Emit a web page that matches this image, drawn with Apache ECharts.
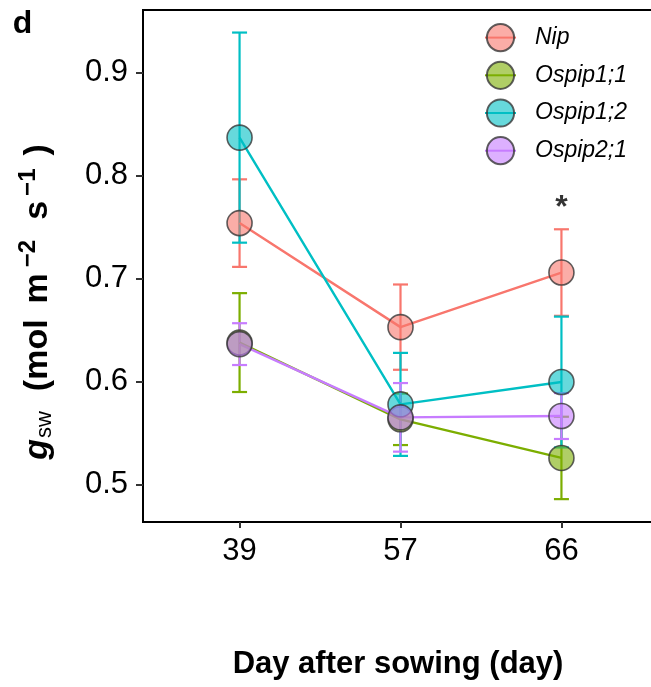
<!DOCTYPE html>
<html><head><meta charset="utf-8">
<script src="https://cdn.jsdelivr.net/npm/echarts@6/dist/echarts.min.js"></script>
<style>html,body{margin:0;padding:0;background:#fff}#c{width:651px;height:687px}</style>
</head><body><div id="c"></div>
<script>
// ---- data ----
const categories = ['39', '57', '66'];
const seriesNames = ['Nip', 'Ospip1;1', 'Ospip1;2', 'Ospip2;1'];
const meanNip   = [0.754, 0.653, 0.706];
const errNip    = [0.0425, 0.0414, 0.042];
const meanPip11 = [0.638, 0.5635, 0.526];
const errPip11  = [0.048, 0.025, 0.040];
const meanPip12 = [0.837, 0.578, 0.5997];
const errPip12  = [0.102, 0.050, 0.0635];
const meanPip21 = [0.6365, 0.5654, 0.5667];
const errPip21  = [0.0203, 0.0333, 0.0223];
const yTicks = [0.5, 0.6, 0.7, 0.8, 0.9];
const signifSeries = 'Nip';
const signifCategory = '66';
const signifLabel = '*';

const means = [meanNip, meanPip11, meanPip12, meanPip21];
const errs = [errNip, errPip11, errPip12, errPip21];
const colors = ['#F8766D', '#7CAE00', '#00BFC4', '#C77CFF'];
const fills = ['rgba(248,118,109,0.6)', 'rgba(124,174,0,0.6)', 'rgba(0,191,196,0.6)', 'rgba(199,124,255,0.6)'];
const FONT = '"Liberation Sans", Arial, Helvetica, sans-serif';

const chart = echarts.init(document.getElementById('c'), null, {renderer: 'canvas'});
const series = [];
const xIdx = categories.map((c, i) => i + 1);

seriesNames.forEach((name, s) => {
  series.push({
    type: 'custom',
    name: name + '_err',
    z: 2,
    silent: true,
    data: xIdx.map((x, i) => [x, means[s][i] - errs[s][i], means[s][i] + errs[s][i]]),
    renderItem: function (params, api) {
      const x = api.value(0);
      const lo = api.coord([x, api.value(1)]);
      const hi = api.coord([x, api.value(2)]);
      const hw = 7.5;
      const st = {stroke: colors[s], lineWidth: 2.2, fill: null};
      return {
        type: 'group',
        children: [
          {type: 'line', shape: {x1: lo[0], y1: lo[1], x2: hi[0], y2: hi[1]}, style: st},
          {type: 'line', shape: {x1: lo[0] - hw, y1: lo[1], x2: lo[0] + hw, y2: lo[1]}, style: st},
          {type: 'line', shape: {x1: hi[0] - hw, y1: hi[1], x2: hi[0] + hw, y2: hi[1]}, style: st}
        ]
      };
    }
  });
});
seriesNames.forEach((name, s) => {
  series.push({
    type: 'line',
    name: name,
    z: 3,
    data: xIdx.map((x, i) => [x, means[s][i]]),
    symbol: 'circle',
    showSymbol: false,
    lineStyle: {color: colors[s], width: 2.4},
    itemStyle: {color: fills[s], borderColor: 'rgba(55,55,55,0.8)', borderWidth: 1.6},
    emphasis: {disabled: true}
  });
});
seriesNames.forEach((name, s) => {
  series.push({
    type: 'scatter',
    name: name + '_pt',
    z: 4,
    data: xIdx.map((x, i) => [x, means[s][i]]),
    symbol: 'circle',
    symbolSize: 25,
    itemStyle: {color: fills[s], borderColor: 'rgba(55,55,55,0.8)', borderWidth: 1.6, opacity: 1},
    emphasis: {disabled: true}
  });
});
const sIdx = seriesNames.indexOf(signifSeries);
const cIdx = categories.indexOf(signifCategory);
series.push({
  type: 'scatter',
  name: 'signif',
  z: 5,
  symbolSize: 1,
  itemStyle: {color: 'rgba(0,0,0,0)'},
  data: [[cIdx + 1, means[sIdx][cIdx] + errs[sIdx][cIdx]]],
  label: {show: true, formatter: signifLabel, position: 'inside', offset: [0, -21],
          fontSize: 32, fontWeight: 'bold', color: '#000', fontFamily: FONT}
});

chart.setOption({
  animation: false,
  backgroundColor: '#fff',
  grid: {left: 143, top: 10, width: 515, height: 512, show: true, borderColor: '#000', borderWidth: 2,
         backgroundColor: 'transparent', outerBoundsMode: 'none', containLabel: false},
  xAxis: {
    type: 'value', min: 0.4, max: 3.6,
    axisLine: {show: false},
    splitLine: {show: false},
    axisTick: {show: true, customValues: xIdx, length: 6, lineStyle: {color: '#333', width: 2}},
    axisLabel: {customValues: xIdx, formatter: v => categories[Math.round(v) - 1], fontSize: 31,
                color: '#000', fontFamily: FONT, margin: 14}
  },
  yAxis: {
    type: 'value', min: 0.4638, max: 0.9609,
    axisLine: {show: false},
    splitLine: {show: false},
    axisTick: {show: true, customValues: yTicks, length: 7, lineStyle: {color: '#333', width: 2}},
    axisLabel: {customValues: yTicks, formatter: v => v.toFixed(1), fontSize: 31,
                color: '#000', fontFamily: FONT, margin: 15}
  },
  legend: {
    data: seriesNames,
    orient: 'vertical',
    left: 484, top: 23, padding: 0,
    itemWidth: 31, itemHeight: 34, itemGap: 8.5,
    selectedMode: false,
    textStyle: {fontSize: 23, fontStyle: 'italic', color: '#000', fontFamily: FONT, padding: [0, 0, 0, 14]}
  },
  graphic: [
    {type: 'text', x: 22.5, y: 24, style: {text: 'd', font: 'bold 32px ' + FONT, fill: '#000', align: 'center', verticalAlign: 'middle'}},
    {type: 'text', x: 398, y: 664, style: {text: 'Day after sowing (day)', font: 'bold 31px ' + FONT, fill: '#000', align: 'center', verticalAlign: 'middle'}},
    {type: 'text', x: 38, y: 302, rotation: Math.PI / 2,
     style: {
       text: '{g|g}{sub|sw}{n|(mol}{n2|m}{sup|−2}{s|s}{sup|−1}{n3|)}',
       align: 'center', verticalAlign: 'middle', fill: '#000',
       rich: {
         g: {fontSize: 34, fontWeight: 'bold', fontStyle: 'italic', fontFamily: FONT, lineHeight: 44, verticalAlign: 'middle'},
         sub: {fontSize: 22, fontFamily: FONT, lineHeight: 44, verticalAlign: 'bottom', padding: [0, 20, 4, 1]},
         n: {fontSize: 34, fontWeight: 'bold', fontFamily: FONT, lineHeight: 44, verticalAlign: 'middle', padding: [0, 16, 0, 0]},
         n2: {fontSize: 34, fontWeight: 'bold', fontFamily: FONT, lineHeight: 44, verticalAlign: 'middle', padding: [0, 6, 0, 0]},
         s: {fontSize: 34, fontWeight: 'bold', fontFamily: FONT, lineHeight: 44, verticalAlign: 'middle', padding: [0, 5, 0, 20]},
         n3: {fontSize: 34, fontWeight: 'bold', fontFamily: FONT, lineHeight: 44, verticalAlign: 'middle', padding: [0, 0, 0, 13]},
         sup: {fontSize: 24, fontWeight: 'bold', fontFamily: FONT, lineHeight: 24, verticalAlign: 'top'}
       }
     }}
  ],
  series: series
});
</script></body></html>
